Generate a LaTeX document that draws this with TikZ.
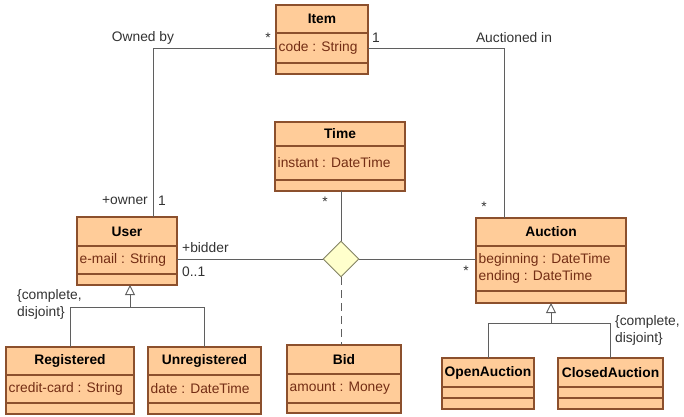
\documentclass[tikz,border=0pt]{standalone}
\usepackage{fontspec}
\setmainfont{Liberation Sans}
\usetikzlibrary{arrows.meta,shapes.geometric}

\definecolor{classfill}{RGB}{255,204,153}
\definecolor{classedge}{RGB}{140,80,45}
\definecolor{attrink}{RGB}{115,45,20}
\definecolor{wire}{RGB}{95,95,95}
\definecolor{labelink}{RGB}{50,50,50}
\definecolor{diafill}{RGB}{255,255,204}
\definecolor{diaedge}{RGB}{130,130,100}

\tikzset{
  classbox/.style={draw=classedge, fill=classfill, line width=1.1pt, inner sep=0pt, outer sep=0pt},
  boxline/.style={draw=classedge, line width=1.1pt},
  titletext/.style={font=\fontsize{13.8}{16}\selectfont\bfseries, text=black, inner sep=0pt},
  attrtext/.style={font=\fontsize{13.8}{17}\selectfont, text=attrink, inner sep=2.5pt, align=left, anchor=west},
  wirestyle/.style={draw=wire, line width=0.9pt},
  genwire/.style={draw=wire, line width=0.9pt},
  gentip/.style={-{Triangle[open, width=10pt, length=10pt, fill=white]}},
  tag/.style={font=\fontsize{13.8}{16}\selectfont, text=labelink, inner sep=0pt},
  naryjoin/.style={diamond, aspect=1, draw=diaedge, fill=diafill, line width=0.9pt, minimum size=36pt, inner sep=0pt},
}

% name, left, top, right, bottom, title rule, attribute rule, title, attributes
\newcommand\umlclass[9]{%
  \node[classbox, minimum width={(#4-#2)*1pt}, minimum height={(#5-#3)*1pt}]
    (#1) at ({(#2+#4)/2},{(#3+#5)/2}) {};
  \draw[boxline] (#2,#6) -- (#4,#6);
  \draw[boxline] (#2,#7) -- (#4,#7);
  \node[titletext] (#1-title) at ({(#2+#4)/2},{(#3+#6)/2}) {#8};
  \node[attrtext] (#1-attr) at (#2,{(#6+#7)/2}) {#9};
}

\begin{document}
\begin{tikzpicture}[x=1pt, y=-1pt]
\useasboundingbox (0,0) rectangle (684,416);

% classes
\umlclass{Item}{276}{5}{368}{74}{33}{63}{Item}{code : String}
\umlclass{Time}{275}{122}{405}{191}{146}{180}{Time}{instant : DateTime}
\umlclass{User}{77}{217}{177}{285}{246}{274}{User}{e-mail : String}
\umlclass{Auction}{476}{218}{626}{303}{246}{291}{Auction}{beginning : DateTime\\ending : DateTime}
\umlclass{Registered}{6}{347}{134}{414}{375}{403}{Registered}{credit-card : String}
\umlclass{Unregistered}{148}{347}{261}{414}{375}{403}{Unregistered}{date : DateTime}
\umlclass{Bid}{287}{345}{401}{413}{374}{403}{Bid}{amount : Money}
\umlclass{OpenAuction}{442}{358}{534}{409}{387}{398}{OpenAuction}{}
\umlclass{ClosedAuction}{558}{358}{663}{409}{387}{398}{ClosedAuction}{}

% ternary association
\node[naryjoin] (bidjoin) at (341,259) {};

% associations
\draw[wirestyle] (Item-attr.west) -| ([xshift=26pt]User.north);
\draw[wirestyle] (Item.east |- Item-attr.west) -| ([xshift=-47pt]Auction.north);
\draw[wirestyle] (User.east |- bidjoin.west) -- (bidjoin.west);
\draw[wirestyle] (bidjoin.east) -- (bidjoin.east -| Auction.west);
\draw[wirestyle] (bidjoin.north |- Time.south) -- (bidjoin.north);
\draw[wirestyle, dashed, dash pattern=on 8pt off 5pt] (bidjoin.south) -- (bidjoin.south |- Bid.north);

% generalizations
\coordinate (userfork) at (130,307);
\draw[genwire] (Registered.north) |- (Unregistered.north |- userfork) -- (Unregistered.north);
\draw[genwire, gentip] (userfork) -- ([xshift=3pt]User.south);
\coordinate (auctionfork) at (551,323);
\draw[genwire] (OpenAuction.north) |- (ClosedAuction.north |- auctionfork) -- (ClosedAuction.north);
\draw[genwire, gentip] (auctionfork) -- (Auction.south);

% association labels and multiplicities
\node[tag] (ownedby) at (143,38) {Owned by};
\node[tag] (itemowned) at (268,38) {*};
\node[tag] (itemauction) at (376,38) {1};
\node[tag] (auctionedin) at (514,38) {Auctioned in};
\node[tag, anchor=east] (ownerrole) at (148,201) {+owner};
\node[tag] (ownermult) at (162,201) {1};
\node[tag] (timemult) at (325,202) {*};
\node[tag] (auctionmult) at (484,207) {*};
\node[tag, anchor=west] (bidderrole) at (182,248) {+bidder};
\node[tag, anchor=west] (biddermult) at (182,272) {0..1};
\node[tag] (bidauction) at (466,271) {*};

% generalization constraints
\node[tag, anchor=west, align=left, font=\fontsize{13.8}{17}\selectfont] (userconstraint) at (17,304) {\{complete,\\disjoint\}};
\node[tag, anchor=west, align=left, font=\fontsize{13.8}{17}\selectfont] (auctionconstraint) at (615,330) {\{complete,\\disjoint\}};
\end{tikzpicture}
\end{document}
